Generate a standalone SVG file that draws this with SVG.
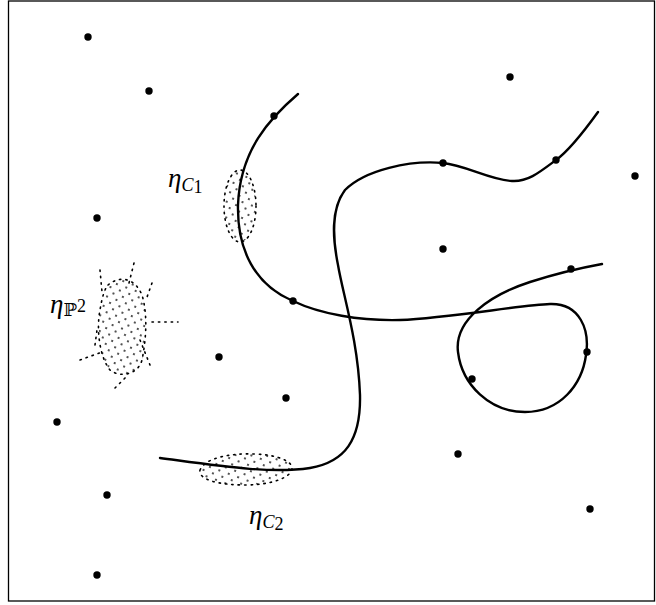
<svg xmlns="http://www.w3.org/2000/svg" width="656" height="605" viewBox="0 0 656 605">
<defs>
<pattern id="stipple" width="10" height="10" patternUnits="userSpaceOnUse" patternTransform="rotate(20)">
<circle cx="2" cy="2" r="0.9" fill="#000"/>
<circle cx="7" cy="7" r="0.9" fill="#000"/>
</pattern>
</defs>
<style>
.curve{fill:none;stroke:#000;stroke-width:2.4;stroke-linecap:round}
.dot{fill:#000}
.stip{fill:none;stroke:#000;stroke-width:1.6;stroke-dasharray:1.4 5;stroke-linecap:round}
.area{fill:url(#stipple);stroke:#000;stroke-width:1.6;stroke-dasharray:1.4 5;stroke-linecap:round}
.lbl{font-family:"Liberation Serif","DejaVu Serif",serif;font-style:italic;font-size:27px;fill:#000}
.sub{font-family:"Liberation Serif","DejaVu Serif",serif;font-size:18px;fill:#000}
</style>
<rect x="8.5" y="1" width="646" height="600" fill="#fff" stroke="#000" stroke-width="1.3"/>
<g id="regions">
<g id="stipple-C1">
<ellipse class="area" cx="240" cy="206" rx="16" ry="36"/>
</g>
<g id="stipple-C2">
<path class="area" d="M200,470 C205,458 230,453 255,454 C280,455 292,462 292,468 C292,478 270,485 245,485 C220,485 198,480 200,470 Z"/>
</g>
<g id="stipple-P2">
<path class="area" d="M108,285 C120,275 135,278 142,295 C148,315 146,340 142,360 C138,375 120,378 110,370 C100,358 96,330 100,310 C102,298 104,290 108,285 Z"/>
<path class="stip" d="M100,270 L102,292 M134,263 L128,287 M152,283 L146,300 M80,360 L102,352 M115,388 L128,375 M152,322 L178,322 M95,345 L97,330 M140,340 L150,365"/>
</g>
</g>
<g id="connectors">
<path class="curve" d="M298,94 C270,118 240,150 238,205 C237,250 255,285 293,301 C320,314 360,321 400,320 C450,318 520,305 550,304 C580,303 590,330 586,355 C582,385 560,412 525,412 C490,412 462,385 458,352 C454,320 490,295 530,282 C555,274 580,268 602,264"/>
<path class="curve" d="M598,112 C585,130 570,150 556,160 C540,172 528,182 512,181 C490,180 465,165 443,163 C410,160 365,170 345,190 C330,210 333,240 338,265 C343,295 358,340 360,395 C361,440 345,462 310,468 C270,474 220,466 160,458"/>
</g>
<g id="points">
<circle class="dot" cx="88" cy="37" r="3.7"/>
<circle class="dot" cx="149" cy="91" r="3.7"/>
<circle class="dot" cx="510" cy="77" r="3.7"/>
<circle class="dot" cx="274" cy="116" r="3.7"/>
<circle class="dot" cx="443" cy="163" r="3.7"/>
<circle class="dot" cx="556" cy="160" r="3.7"/>
<circle class="dot" cx="635" cy="176" r="3.7"/>
<circle class="dot" cx="97" cy="218" r="3.7"/>
<circle class="dot" cx="443" cy="249" r="3.7"/>
<circle class="dot" cx="571" cy="269" r="3.7"/>
<circle class="dot" cx="293" cy="301" r="3.7"/>
<circle class="dot" cx="587" cy="352" r="3.7"/>
<circle class="dot" cx="219" cy="357" r="3.7"/>
<circle class="dot" cx="472" cy="379" r="3.7"/>
<circle class="dot" cx="286" cy="398" r="3.7"/>
<circle class="dot" cx="57" cy="422" r="3.7"/>
<circle class="dot" cx="458" cy="454" r="3.7"/>
<circle class="dot" cx="107" cy="495" r="3.7"/>
<circle class="dot" cx="590" cy="509" r="3.7"/>
<circle class="dot" cx="97" cy="575" r="3.7"/>
</g>
<g id="labels">
<text class="lbl" x="168" y="187">η<tspan class="sub" font-style="italic" dy="4">C</tspan><tspan class="sub" font-style="normal" font-size="14" dy="2">1</tspan></text>
<text class="lbl" x="50" y="313">η<tspan class="sub" font-style="normal" dy="3">ℙ</tspan><tspan class="sub" font-style="normal" font-size="14" dy="-4">2</tspan></text>
<text class="lbl" x="249" y="524">η<tspan class="sub" font-style="italic" dy="4">C</tspan><tspan class="sub" font-style="normal" font-size="14" dy="2">2</tspan></text>
</g>
</svg>
